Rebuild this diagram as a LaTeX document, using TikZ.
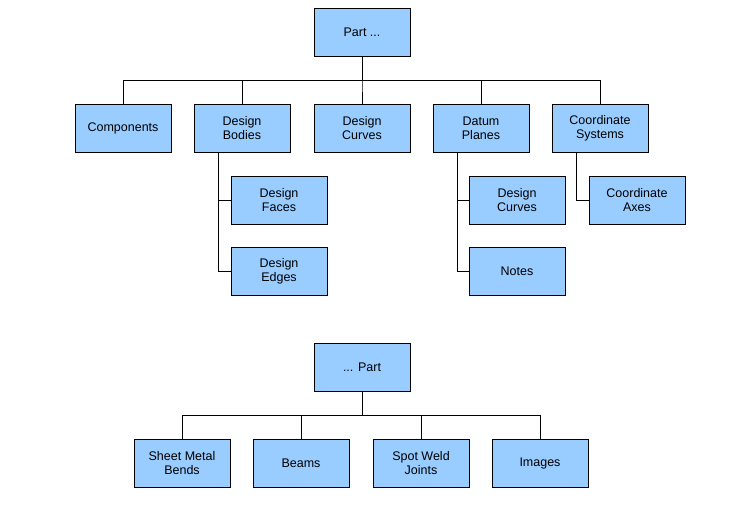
\documentclass[tikz,border=0pt]{standalone}
\usepackage{fontspec}
\setmainfont{Liberation Sans}
\usepackage{tikz}

\begin{document}
\begin{tikzpicture}[x=1pt,y=-1pt,line width=.8pt,
  box/.style={draw=black,fill=boxblue,minimum width=96pt,minimum height=48pt,inner sep=0pt,align=center,font=\fontsize{12.5}{14}\selectfont},
  link/.style={draw=black,line width=.8pt}]
\definecolor{boxblue}{HTML}{99CCFF}
\path[use as bounding box] (0,0) rectangle (752,507);
% upper tree
\node[box] (part) at (362,32) {Part ...};
\node[box] (comp) at (123,128) {Components};
\node[box] (bod) at (242,128) {Design\\Bodies};
\node[box] (curv) at (362,128) {Design\\Curves};
\node[box] (datum) at (481,128) {Datum\\Planes};
\node[box] (csys) at (600,128) {Coordinate\\Systems};
\node[box] (faces) at (279,200) {Design\\Faces};
\node[box] (edges) at (279,271) {Design\\Edges};
\node[box] (dcurv) at (517,200) {Design\\Curves};
\node[box] (notes) at (517,271) {Notes};
\node[box] (axes) at (637,200) {Coordinate\\Axes};
\foreach \n in {comp,bod,curv,datum,csys}
  \draw[link] (part.south) -- ++(0,24) -| (\n.north);
\draw[link] ([xshift=-24pt]bod.south) |- (faces.west);
\draw[link] ([xshift=-24pt]bod.south) |- (edges.west);
\draw[link] ([xshift=-24pt]datum.south) |- (dcurv.west);
\draw[link] ([xshift=-24pt]datum.south) |- (notes.west);
\draw[link] ([xshift=-24pt]csys.south) |- (axes.west);
% lower tree
\node[box] (part2) at (362,367) {... Part};
\node[box] (bends) at (182,463) {Sheet Metal\\Bends};
\node[box] (beams) at (301,463) {Beams};
\node[box] (welds) at (421,463) {Spot Weld\\Joints};
\node[box] (imgs) at (540,463) {Images};
\foreach \n in {bends,beams,welds,imgs}
  \draw[link] (part2.south) -- ++(0,24) -| (\n.north);
\end{tikzpicture}
\end{document}
